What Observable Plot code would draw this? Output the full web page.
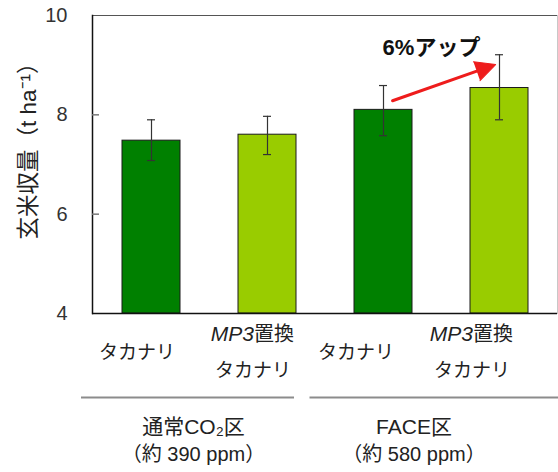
<!DOCTYPE html>
<html><head><meta charset="utf-8">
<script src="https://cdn.jsdelivr.net/npm/d3@7"></script>
<script src="https://cdn.jsdelivr.net/npm/@observablehq/plot@0.6"></script>
<style>
body{margin:0;background:#fff;}
#chart svg{display:block;}
</style></head><body><div id="chart"></div>
<script>
// ---- data ----
const ids = ["t390", "m390", "t580", "m580"];
const groupIndex = [0, 0, 1, 1];
const yieldMean = [7.48, 7.60, 8.10, 8.54];
const errLow = [7.08, 7.20, 7.58, 7.90];
const errHigh = [7.90, 7.97, 8.59, 9.21];
const lineGene = ["", "MP3", "", "MP3"];
const lineSuffix = ["", "置換", "", "置換"];
const lineCultivar = ["タカナリ", "タカナリ", "タカナリ", "タカナリ"];
const barColors = ["#008000", "#99cc00", "#008000", "#99cc00"];
const yTicks = [4, 6, 8, 10];
const groupNames = ["通常CO₂区", "FACE区"];
const groupConc = ["（約 390 ppm）", "（約 580 ppm）"];
const groupFirst = ["t390", "t580"];
const groupLast = ["m390", "m580"];
const yLabel = "玄米収量（t ha⁻¹）";
const annotationText = "6%アップ";
const arrowFromX = "t580", arrowFromY = 8.22;
const arrowToX = "m580", arrowToY = 9.04;

const data = ids.map((id, i) => ({
  id, group: groupIndex[i], value: yieldMean[i], lo: errLow[i], hi: errHigh[i],
  gene: lineGene[i], suffix: lineSuffix[i], cultivar: lineCultivar[i], color: barColors[i]
}));
const groups = groupNames.map((name, i) => ({name, conc: groupConc[i], first: groupFirst[i], last: groupLast[i]}));
const arrow = [{x1: arrowFromX, y1: arrowFromY, x2: arrowToX, y2: arrowToY}];

const F = "'Liberation Sans', Arial, 'Noto Sans CJK JP', sans-serif";
const TXT = "#222";
const W = 558, H = 472, ML = 92, MR = 1, MT = 15, MB = 159;

function labelMarks(rows, dx) {
  const single = rows.filter(d => !d.gene);
  const dbl = rows.filter(d => d.gene);
  return [
    Plot.text(single, {x: "id", text: "cultivar", frameAnchor: "bottom", dy: 39, dx, fontSize: 19, textAnchor: "middle", lineAnchor: "middle", fill: TXT}),
    Plot.text(dbl, {x: "id", text: "gene", frameAnchor: "bottom", dy: 21, dx: dx + 1, textAnchor: "end", lineAnchor: "middle", fontStyle: "italic", fontSize: 21, fill: TXT}),
    Plot.text(dbl, {x: "id", text: "suffix", frameAnchor: "bottom", dy: 21, dx: dx + 1, textAnchor: "start", lineAnchor: "middle", fontSize: 20, fill: TXT}),
    Plot.text(dbl, {x: "id", text: "cultivar", frameAnchor: "bottom", dy: 57, dx, fontSize: 19, textAnchor: "middle", lineAnchor: "middle", fill: TXT})
  ];
}

const plot = Plot.plot({
  width: W,
  height: H,
  marginLeft: ML,
  marginRight: MR,
  marginTop: MT,
  marginBottom: MB,
  style: {fontFamily: F, background: "#fff", overflow: "visible"},
  x: {domain: ids, axis: null, paddingInner: 0.5, paddingOuter: 0.25},
  y: {domain: [4, 10], axis: null},
  marks: [
    Plot.barY(data, {x: "id", y1: 4, y2: "value", fill: "color", stroke: "#1a1a1a", strokeWidth: 1}),
    Plot.ruleX(data, {x: "id", y1: "lo", y2: "hi", stroke: "#333", strokeWidth: 1.2}),
    Plot.tickY(data, {x: "id", y: "lo", inset: 25, stroke: "#333", strokeWidth: 1.2}),
    Plot.tickY(data, {x: "id", y: "hi", inset: 25, stroke: "#333", strokeWidth: 1.2}),
    // frame
    Plot.ruleY([10], {stroke: "#555", strokeWidth: 1.2}),
    Plot.frame({anchor: "right", stroke: "#c8c8c8", strokeWidth: 1}),
    Plot.frame({anchor: "left", stroke: "#111", strokeWidth: 1.5}),
    Plot.ruleY([4], {stroke: "#111", strokeWidth: 1.5}),
    // y axis: inward ticks + labels
    Plot.ruleY(yTicks.slice(1, -1), {insetRight: W - ML - MR - 7, stroke: "#777", strokeWidth: 1.5}),
    Plot.axisY({ticks: yTicks, tickSize: 0, tickPadding: 25, tickFormat: d3.format("d"), fontSize: 20, label: null, color: "#333"}),
    Plot.text([yLabel], {frameAnchor: "left", rotate: -90, dx: -64, dy: -19, textAnchor: "middle", lineAnchor: "middle", fontSize: 22.5, fill: TXT}),
    // annotation
    Plot.arrow(arrow, {x1: "x1", y1: "y1", x2: "x2", y2: "y2", stroke: "#ee1c1c", strokeWidth: 3, headLength: 0, insetStart: 9.6, insetEnd: 15}),
    Plot.vector(arrow, {x: "x2", y: "y2", anchor: "end", shape: "spike", length: 20, r: 10, rotate: 70.75, dx: -3.9, dy: 1.4, fill: "#ee1c1c", fillOpacity: 1, stroke: "#ee1c1c", strokeWidth: 1}),
    Plot.text([{x: arrowToX, t: annotationText}], {x: "x", text: "t", frameAnchor: "top", dy: 32, dx: -68, textAnchor: "middle", fontWeight: "bold", fontSize: 22, fill: "#111", lineAnchor: "middle"}),
    // category labels
    ...labelMarks(data.filter(d => d.group === 0), -14.5),
    ...labelMarks(data.filter(d => d.group === 1), -27.5),
    // group lines
    Plot.ruleY([groups[0]], {x1: "first", x2: "last", y: () => 4, dy: 84, insetLeft: -41, insetRight: 2, stroke: "#8c8c8c", strokeWidth: 2}),
    Plot.ruleY([groups[1]], {x1: "first", x2: "last", y: () => 4, dy: 84, insetLeft: -44.5, insetRight: -30, stroke: "#8c8c8c", strokeWidth: 2}),
    // group labels
    Plot.text([groups[0]], {x: "first", text: "name", frameAnchor: "bottom", dy: 114, dx: 42, textAnchor: "middle", fontSize: 21, fill: TXT, lineAnchor: "middle"}),
    Plot.text([groups[0]], {x: "first", text: "conc", frameAnchor: "bottom", dy: 141, dx: 42, textAnchor: "middle", fontSize: 20, fill: TXT, lineAnchor: "middle"}),
    Plot.text([groups[1]], {x: "first", text: "name", frameAnchor: "bottom", dy: 114, dx: 30.5, textAnchor: "middle", fontSize: 21, fill: TXT, lineAnchor: "middle"}),
    Plot.text([groups[1]], {x: "first", text: "conc", frameAnchor: "bottom", dy: 141, dx: 30.5, textAnchor: "middle", fontSize: 20, fill: TXT, lineAnchor: "middle"})
  ]
});
document.getElementById("chart").appendChild(plot);
</script>
</body></html>
